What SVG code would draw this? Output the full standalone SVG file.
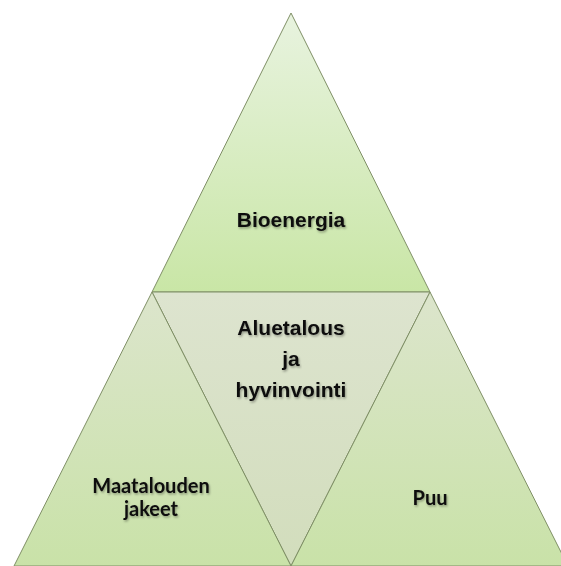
<svg xmlns="http://www.w3.org/2000/svg" width="561" height="566" viewBox="0 0 561 566">
  <defs>
    <linearGradient id="gTop" x1="0" y1="0" x2="0" y2="1">
      <stop offset="0" stop-color="#e8f3df"/>
      <stop offset="1" stop-color="#c9e6a6"/>
    </linearGradient>
    <linearGradient id="gMid" x1="0" y1="0" x2="0" y2="1">
      <stop offset="0" stop-color="#dde4cf"/>
      <stop offset="1" stop-color="#d2ddbc"/>
    </linearGradient>
    <linearGradient id="gSide" x1="0" y1="0" x2="0" y2="1">
      <stop offset="0" stop-color="#dce5cc"/>
      <stop offset="1" stop-color="#c9e2a8"/>
    </linearGradient>
    <filter id="sh" x="-10%" y="-20%" width="120%" height="140%">
      <feDropShadow dx="1" dy="1.5" stdDeviation="1" flood-color="#000" flood-opacity="0.35"/>
    </filter>
  </defs>
  <style>
    .tri { stroke: #7f8f66; stroke-width: 1; stroke-linejoin: miter; }
    .lblA { font-family: "Liberation Sans", Arial, sans-serif; font-weight: bold; font-size: 21px; fill: #111; text-anchor: middle; filter: url(#sh); }
    .lblC { font-family: Lato, "Open Sans", sans-serif; font-weight: bold; font-size: 20px; fill: #111; text-anchor: middle; filter: url(#sh); }
  </style>
  <rect width="561" height="566" fill="#ffffff"/>
  <g id="bioenergia">
    <polygon class="tri" points="291,13 430,292 152,292" fill="url(#gTop)"/>
    <text class="lblA" x="291" y="227">Bioenergia</text>
  </g>
  <g id="aluetalous">
    <polygon class="tri" points="152,292 430,292 291,566" fill="url(#gMid)"/>
    <text class="lblA" x="291" y="335">Aluetalous</text>
    <text class="lblA" x="291" y="366">ja</text>
    <text class="lblA" x="291" y="397">hyvinvointi</text>
  </g>
  <g id="maatalouden">
    <polygon class="tri" points="152,292 291,566 14,566" fill="url(#gSide)"/>
    <text class="lblC" x="151" y="493">Maatalouden</text>
    <text class="lblC" x="151" y="516">jakeet</text>
  </g>
  <g id="puu">
    <polygon class="tri" points="430,292 568,566 291,566" fill="url(#gSide)"/>
    <text class="lblC" x="430" y="505">Puu</text>
  </g>
  <g id="connectors"/>
</svg>
